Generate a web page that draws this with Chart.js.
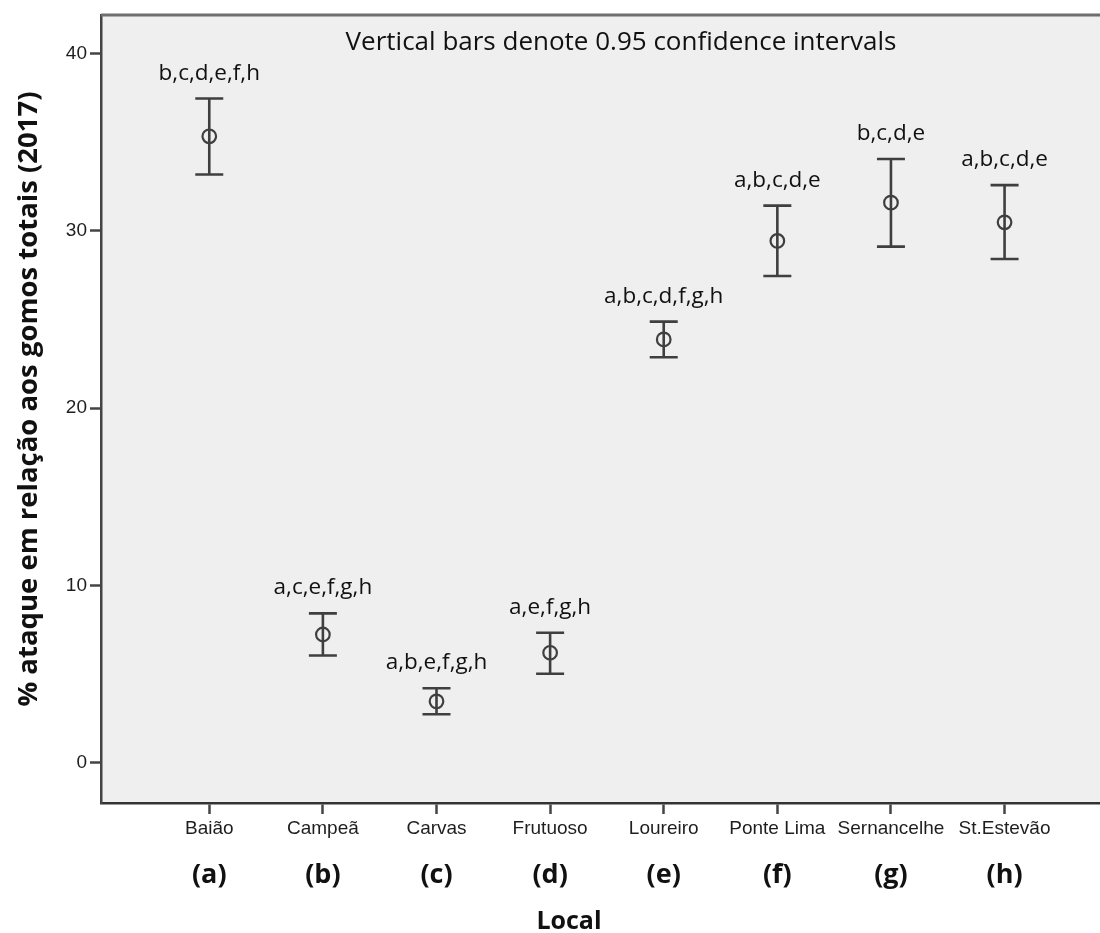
<!DOCTYPE html>
<html>
<head>
<meta charset="utf-8">
<script src="https://cdn.jsdelivr.net/npm/chart.js@4/dist/chart.umd.min.js"></script>
<style>
  html, body { margin: 0; padding: 0; background: #ffffff; }
  canvas { display: block; }
</style>
</head>
<body>
<canvas id="grafico" width="1100" height="933"></canvas>
<script>
// Locais amostrados e respetivas letras de identificação
const locais = ['Baião', 'Campeã', 'Carvas', 'Frutuoso', 'Loureiro', 'Ponte Lima', 'Sernancelhe', 'St.Estevão'];
const letras = ['(a)', '(b)', '(c)', '(d)', '(e)', '(f)', '(g)', '(h)'];

// Média da % de ataque e limites do intervalo de confiança a 95%
const medias    = [35.32, 7.23, 3.46, 6.20, 23.87, 29.42, 31.58, 30.47];
const limiteSup = [37.45, 8.42, 4.20, 7.33, 24.87, 31.41, 34.04, 32.57];
const limiteInf = [33.17, 6.05, 2.73, 5.02, 22.86, 27.44, 29.10, 28.40];

// Locais com diferenças significativas em relação a cada um
const grupos = ['b,c,d,e,f,h', 'a,c,e,f,g,h', 'a,b,e,f,g,h', 'a,e,f,g,h',
                'a,b,c,d,f,g,h', 'a,b,c,d,e', 'b,c,d,e', 'a,b,c,d,e'];

const ticksY = [0, 10, 20, 30, 40];

const tituloY = '% ataque em relação aos gomos totais (2017)';
const tituloX = 'Local';
const nota = 'Vertical bars denote 0.95 confidence intervals';

const corLinha = '#3f3f3f';
const corTexto = '#111111';
const fonteTexto = '"Open Sans", "Noto Sans", sans-serif';
const fonteEixo = '"Liberation Sans", Arial, sans-serif';

// Fundo cinzento da área do gráfico e moldura superior
const fundo = {
  id: 'fundo',
  beforeDraw(chart) {
    const { ctx, chartArea: a } = chart;
    ctx.save();
    ctx.fillStyle = '#efefef';
    ctx.fillRect(a.left, a.top, a.right - a.left, a.bottom - a.top);
    ctx.restore();
  },
  afterDraw(chart) {
    const { ctx, chartArea: a } = chart;
    ctx.save();
    ctx.strokeStyle = '#6e6e6e';
    ctx.lineWidth = 3;
    ctx.beginPath();
    ctx.moveTo(a.left, a.top);
    ctx.lineTo(a.right, a.top);
    ctx.stroke();
    ctx.restore();
  }
};

// Barras verticais do intervalo de confiança com traços nas extremidades
const barrasErro = {
  id: 'barrasErro',
  beforeDatasetsDraw(chart) {
    const { ctx, scales: { x, y } } = chart;
    const meia = 14;
    ctx.save();
    ctx.strokeStyle = corLinha;
    ctx.lineWidth = 2.6;
    ctx.lineCap = 'butt';
    medias.forEach((m, i) => {
      const px = x.getPixelForValue(i);
      const ySup = y.getPixelForValue(limiteSup[i]);
      const yInf = y.getPixelForValue(limiteInf[i]);
      ctx.beginPath();
      ctx.moveTo(px, ySup);
      ctx.lineTo(px, yInf);
      ctx.moveTo(px - meia, ySup);
      ctx.lineTo(px + meia, ySup);
      ctx.moveTo(px - meia, yInf);
      ctx.lineTo(px + meia, yInf);
      ctx.stroke();
    });
    ctx.restore();
  }
};

// Textos: nota, grupos, letras dos locais e títulos dos eixos
const textos = {
  id: 'textos',
  afterDraw(chart) {
    const { ctx, scales: { x, y } } = chart;
    ctx.save();
    ctx.fillStyle = corTexto;
    ctx.textAlign = 'center';

    ctx.font = '26px ' + fonteTexto;
    ctx.textBaseline = 'middle';
    ctx.fillText(nota, 621, 43);

    ctx.font = '22.5px ' + fonteTexto;
    ctx.textBaseline = 'alphabetic';
    grupos.forEach((g, i) => {
      ctx.fillText(g, x.getPixelForValue(i), y.getPixelForValue(limiteSup[i]) - 19);
    });

    ctx.font = 'bold 27px ' + fonteTexto;
    ctx.textBaseline = 'middle';
    letras.forEach((l, i) => {
      ctx.fillText(l, x.getPixelForValue(i), 875);
    });

    ctx.font = 'bold 25px ' + fonteTexto;
    ctx.textBaseline = 'alphabetic';
    ctx.fillText(tituloX, 569, 929);

    ctx.translate(29, 399);
    ctx.rotate(-Math.PI / 2);
    ctx.font = 'bold 27.5px ' + fonteTexto;
    ctx.textBaseline = 'middle';
    ctx.fillText(tituloY, 0, 0);
    ctx.restore();
  }
};

new Chart(document.getElementById('grafico'), {
  type: 'scatter',
  data: {
    datasets: [{
      data: medias.map((m, i) => ({ x: i, y: m })),
      pointStyle: 'circle',
      pointRadius: 6.8,
      pointHoverRadius: 6.8,
      borderWidth: 2.2,
      borderColor: corLinha,
      backgroundColor: 'rgba(0,0,0,0)',
      showLine: false
    }]
  },
  options: {
    responsive: false,
    animation: false,
    devicePixelRatio: 1,
    events: [],
    layout: { autoPadding: false, padding: { top: 15, right: 0, bottom: 0, left: 0 } },
    plugins: { legend: { display: false }, tooltip: { enabled: false } },
    scales: {
      x: {
        type: 'linear',
        min: -0.953,
        max: 7.84,
        afterBuildTicks: s => { s.ticks = locais.map((_, i) => ({ value: i })); },
        afterFit: s => { s.height = 130; s.paddingLeft = 0; s.paddingRight = 0; },
        ticks: {
          callback: v => locais[v],
          autoSkip: false,
          maxRotation: 0,
          padding: 3,
          color: '#1e1e1e',
          font: { family: fonteEixo, size: 19 }
        },
        grid: { drawOnChartArea: false, tickLength: 11, tickWidth: 2.5, tickColor: '#444444' },
        border: { display: true, color: '#333333', width: 2.5 }
      },
      y: {
        min: -2.27,
        max: 42.16,
        afterBuildTicks: s => { s.ticks = ticksY.map(v => ({ value: v })); },
        afterFit: s => { s.width = 101; s.paddingTop = 0; s.paddingBottom = 0; },
        ticks: {
          padding: 3,
          color: '#1e1e1e',
          font: { family: fonteEixo, size: 19 }
        },
        grid: { drawOnChartArea: false, tickLength: 11, tickWidth: 2.5, tickColor: '#444444' },
        border: { display: true, color: '#444444', width: 2.5 }
      }
    }
  },
  plugins: [fundo, barrasErro, textos]
});
</script>
</body>
</html>
